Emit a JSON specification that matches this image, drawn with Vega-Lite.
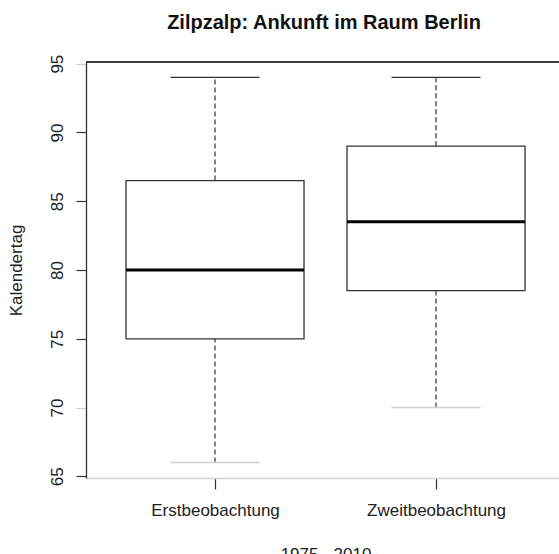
{
  "$schema": "https://vega.github.io/schema/vega-lite/v6.json",
  "autosize": "none",
  "width": 473,
  "height": 416,
  "padding": {"left": 86, "top": 62, "right": 0, "bottom": 76},
  "background": "white",
  "config": {
    "view": {"stroke": null},
    "font": "Liberation Sans"
  },
  "title": {
    "text": "Zilpzalp: Ankunft im Raum Berlin",
    "font": "Liberation Sans",
    "fontSize": 20,
    "fontWeight": "bold",
    "color": "#111",
    "anchor": "middle",
    "frame": "group",
    "baseline": "alphabetic",
    "offset": 34,
    "dx": 1.5,
    "dy": 29
  },
  "data": {
    "values": [
      {"gruppe": "Erstbeobachtung", "min": 66, "q1": 75, "median": 80, "q3": 86.5, "max": 94},
      {"gruppe": "Zweitbeobachtung", "min": 70, "q1": 78.5, "median": 83.5, "q3": 89, "max": 94}
    ]
  },
  "layer": [
    {
      "mark": {"type": "rule", "color": "#333", "strokeWidth": 1.2, "strokeDash": [5, 3]},
      "encoding": {
        "x": {
          "field": "gruppe", "type": "nominal",
          "scale": {"type": "point", "padding": 0.5701, "align": 0.512},
          "axis": {
            "orient": "bottom",
            "title": "1975 - 2010",
            "titleFont": "Liberation Sans",
            "titleFontSize": 17,
            "titleFontWeight": "normal",
            "titleColor": "#222",
            "titleBaseline": "alphabetic",
            "titleX": 239.5,
            "titleY": 81,
            "labelAngle": 0,
            "labelFont": "Liberation Sans",
            "labelFontSize": 17,
            "labelColor": "#222",
            "labelBaseline": "alphabetic",
            "labelPadding": 26.5,
            "tickSize": 11,
            "tickColor": "#333",
            "tickWidth": 1.2,
            "domainColor": "#d3d3d3",
            "domainWidth": 1.5,
            "grid": false
          }
        },
        "y": {
          "field": "q3", "type": "quantitative",
          "scale": {"domain": [64.88, 95.12], "nice": false, "zero": false},
          "axis": {
            "title": "Kalendertag",
            "titleFont": "Liberation Sans",
            "titleFontSize": 17,
            "titleFontWeight": "normal",
            "titleColor": "#222",
            "titleBaseline": "alphabetic",
            "titleAngle": 270,
            "titleX": -65,
            "titleY": 208,
            "values": [65, 70, 75, 80, 85, 90, 95],
            "labelAngle": 270,
            "labelAlign": "center",
            "labelBaseline": "alphabetic",
            "labelFont": "Liberation Sans",
            "labelFontSize": 17,
            "labelColor": "#222",
            "labelPadding": 14,
            "tickSize": 10,
            "tickColor": {"condition": {"test": "datum.value == 70 || datum.value == 95", "value": "#d0d0d0"}, "value": "#333"},
            "tickWidth": 1.2,
            "domainColor": "#333",
            "domainWidth": 1.3,
            "grid": false
          }
        },
        "y2": {"field": "max"}
      }
    },
    {
      "mark": {"type": "rule", "color": "#333", "strokeWidth": 1.3},
      "encoding": {
        "y": {"datum": 95.12, "type": "quantitative"}
      }
    },
    {
      "mark": {"type": "rule", "color": "#333", "strokeWidth": 1.2, "strokeDash": [5, 3]},
      "encoding": {
        "x": {"field": "gruppe", "type": "nominal"},
        "y": {"field": "min", "type": "quantitative"},
        "y2": {"field": "q1"}
      }
    },
    {
      "mark": {"type": "tick", "color": "#333", "opacity": 1, "thickness": 1.3, "size": 89},
      "encoding": {
        "x": {"field": "gruppe", "type": "nominal"},
        "y": {"field": "max", "type": "quantitative"}
      }
    },
    {
      "mark": {"type": "tick", "color": "#cfcfcf", "opacity": 1, "thickness": 1.5, "size": 89},
      "encoding": {
        "x": {"field": "gruppe", "type": "nominal"},
        "y": {"field": "min", "type": "quantitative"}
      }
    },
    {
      "mark": {"type": "bar", "width": 178, "fill": "white", "stroke": "#333", "strokeWidth": 1.3},
      "encoding": {
        "x": {"field": "gruppe", "type": "nominal"},
        "y": {"field": "q1", "type": "quantitative"},
        "y2": {"field": "q3"}
      }
    },
    {
      "mark": {"type": "tick", "color": "#000", "opacity": 1, "thickness": 3, "size": 178},
      "encoding": {
        "x": {"field": "gruppe", "type": "nominal"},
        "y": {"field": "median", "type": "quantitative"}
      }
    }
  ]
}
